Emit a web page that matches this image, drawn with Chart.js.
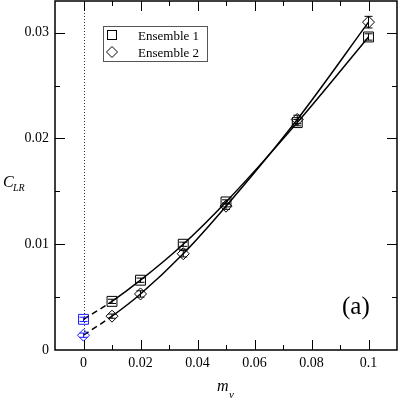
<!DOCTYPE html>
<html>
<head>
<meta charset="utf-8">
<script src="https://cdn.jsdelivr.net/npm/chart.js@4/dist/chart.umd.min.js"></script>
<style>
html, body { margin: 0; padding: 0; background: #fff; }
#wrap { width: 399px; height: 399px; }
</style>
</head>
<body>
<div id="wrap"><canvas id="c" width="399" height="399"></canvas></div>
<script>
// values
const mv = [0, 0.01, 0.02, 0.035, 0.05, 0.075, 0.1];
const ens1 = [0.0029, 0.0046, 0.0066, 0.0100, 0.0140, 0.0215, 0.0296];
const ens1Err = [0.0002, 0.0002, 0.0002, 0.0002, 0.0002, 0.0003, 0.0003];
const ens2 = [0.0014, 0.0032, 0.0053, 0.0091, 0.0136, 0.0218, 0.0310];
const ens2Err = [0.0002, 0.0002, 0.0003, 0.0003, 0.0003, 0.0004, 0.00055];
const xTicks = [0, 0.02, 0.04, 0.06, 0.08, 0.1];
const xTickLabels = ["0", "0.02", "0.04", "0.06", "0.08", "0.1"];
const yTicks = [0, 0.01, 0.02, 0.03];
const yTickLabels = ["0", "0.01", "0.02", "0.03"];
const seriesNames = ["Ensemble 1", "Ensemble 2"];

const SERIF = "'Liberation Serif', 'DejaVu Serif', serif";
const BLUE = "#1a1aff";

Chart.defaults.font.family = SERIF;
Chart.defaults.color = "#000";

const pts = (ys) => mv.map((x, i) => ({ x, y: ys[i] }));
const ptColor = (ctx) => (ctx.dataIndex === 0 ? BLUE : "#000");

// keep the plot frame where the figure has it
const noPad = (s) => {
	s.paddingTop = 0; s.paddingBottom = 0;
	s.paddingLeft = 0; s.paddingRight = 0;
};

// frame, inward ticks, error bars, legend and titles
const decor = {
	id: "decor",
	beforeDatasetsDraw(chart) {
		const { ctx, chartArea: a, scales } = chart;
		const xs = scales.x;
		// dotted line at m_v = 0
		ctx.save();
		ctx.strokeStyle = "#333";
		ctx.lineWidth = 1;
		ctx.setLineDash([1, 2]);
		const x0 = Math.round(xs.getPixelForValue(0)) + 0.5;
		ctx.beginPath();
		ctx.moveTo(x0, a.top);
		ctx.lineTo(x0, a.bottom);
		ctx.stroke();
		ctx.restore();
	},
	afterDatasetsDraw(chart) {
		const { ctx, chartArea: a, scales } = chart;
		const xs = scales.x, ys = scales.y;
		ctx.save();
		// error bars
		const bars = (vals, errs) => {
			vals.forEach((v, i) => {
				const px = xs.getPixelForValue(mv[i]);
				const top = ys.getPixelForValue(v + errs[i]);
				const bot = ys.getPixelForValue(v - errs[i]);
				ctx.strokeStyle = i === 0 ? BLUE : "#000";
				ctx.lineWidth = 1;
				ctx.beginPath();
				ctx.moveTo(px, top); ctx.lineTo(px, bot);
				ctx.moveTo(px - 4, top); ctx.lineTo(px + 4, top);
				ctx.moveTo(px - 4, bot); ctx.lineTo(px + 4, bot);
				ctx.stroke();
			});
		};
		bars(ens1, ens1Err);
		bars(ens2, ens2Err);

		// frame
		ctx.strokeStyle = "#000";
		ctx.lineWidth = 1.5;
		ctx.strokeRect(a.left, a.top, a.right - a.left, a.bottom - a.top);

		// inward ticks on all four sides
		ctx.lineWidth = 1;
		ctx.beginPath();
		for (let v = -0.01; v <= 0.1101; v += 0.01) {
			const px = Math.round(xs.getPixelForValue(v)) + 0.5;
			if (px <= a.left + 1 || px >= a.right - 1) continue;
			const major = xTicks.some((t) => Math.abs(t - v) < 1e-6);
			const len = major ? 10 : 5;
			ctx.moveTo(px, a.bottom); ctx.lineTo(px, a.bottom - len);
			ctx.moveTo(px, a.top); ctx.lineTo(px, a.top + len);
		}
		for (let v = 0; v <= 0.0331; v += 0.005) {
			const py = Math.round(ys.getPixelForValue(v)) + 0.5;
			if (py <= a.top + 1 || py >= a.bottom - 1) continue;
			const major = yTicks.some((t) => Math.abs(t - v) < 1e-6);
			const len = major ? 10 : 5;
			ctx.moveTo(a.left, py); ctx.lineTo(a.left + len, py);
			ctx.moveTo(a.right, py); ctx.lineTo(a.right - len, py);
		}
		ctx.stroke();

		// legend
		ctx.strokeStyle = "#555";
		ctx.lineWidth = 1;
		ctx.strokeRect(103.5, 26.5, 104, 35);
		ctx.strokeStyle = "#000";
		ctx.strokeRect(107.5, 30.5, 9, 9);
		ctx.beginPath();
		ctx.moveTo(112, 46.5); ctx.lineTo(117.5, 52); ctx.lineTo(112, 57.5); ctx.lineTo(106.5, 52);
		ctx.closePath();
		ctx.stroke();
		ctx.fillStyle = "#000";
		ctx.font = "13px " + SERIF;
		ctx.textBaseline = "alphabetic";
		ctx.fillText(seriesNames[0], 138, 40);
		ctx.fillText(seriesNames[1], 138, 57);

		// panel label
		ctx.font = "25px " + SERIF;
		ctx.fillText("(a)", 342, 314);

		// axis titles
		ctx.font = "italic 16px " + SERIF;
		ctx.fillText("C", 3, 187);
		ctx.font = "italic 10px " + SERIF;
		ctx.fillText("LR", 13, 191);
		ctx.font = "italic 16px " + SERIF;
		ctx.fillText("m", 217, 391);
		ctx.font = "italic 11px " + SERIF;
		ctx.fillText("v", 229, 398);
		ctx.restore();
	},
};

const fitSeg = {
	borderDash: (c) => (c.p0.parsed.x < 0.005 ? [6, 4] : undefined),
};

new Chart(document.getElementById("c"), {
	type: "scatter",
	data: {
		datasets: [
			{
				type: "line",
				data: pts(ens1),
				borderColor: "#000",
				borderWidth: 1.5,
				pointRadius: 0,
				cubicInterpolationMode: "monotone",
				segment: fitSeg,
			},
			{
				type: "line",
				data: pts(ens2),
				borderColor: "#000",
				borderWidth: 1.5,
				pointRadius: 0,
				cubicInterpolationMode: "monotone",
				segment: fitSeg,
			},
			{
				label: seriesNames[0],
				data: pts(ens1),
				pointStyle: "rect",
				pointRadius: 7,
				pointBorderWidth: 1,
				pointBorderColor: ptColor,
				pointBackgroundColor: "transparent",
				showLine: false,
			},
			{
				label: seriesNames[1],
				data: pts(ens2),
				pointStyle: "rectRot",
				pointRadius: 6,
				pointBorderWidth: 1,
				pointBorderColor: ptColor,
				pointBackgroundColor: "transparent",
				showLine: false,
			},
		],
	},
	options: {
		responsive: false,
		animation: false,
		devicePixelRatio: 1,
		layout: { autoPadding: false, padding: { top: 1, right: 2, left: 0, bottom: 0 } },
		plugins: { legend: { display: false }, tooltip: { enabled: false } },
		scales: {
			x: {
				type: "linear",
				min: -0.01,
				max: 0.11,
				grid: { display: false, drawTicks: false },
				border: { display: false },
				afterBuildTicks: (s) => { s.ticks = xTicks.map((v) => ({ value: v })); },
				afterFit: (s) => { s.height = 49; noPad(s); },
				ticks: {
					padding: 5,
					color: "#000",
					maxRotation: 0,
					font: { family: SERIF, size: 14 },
					callback: (v) => xTickLabels[xTicks.findIndex((t) => Math.abs(t - v) < 1e-9)],
				},
			},
			y: {
				type: "linear",
				min: 0,
				max: 0.033,
				grid: { display: false, drawTicks: false },
				border: { display: false },
				afterBuildTicks: (s) => { s.ticks = yTicks.map((v) => ({ value: v })); },
				afterFit: (s) => { s.width = 55; noPad(s); },
				ticks: {
					padding: 6,
					color: "#000",
					font: { family: SERIF, size: 14 },
					callback: (v) => yTickLabels[yTicks.findIndex((t) => Math.abs(t - v) < 1e-9)],
				},
			},
		},
	},
	plugins: [decor],
});
</script>
</body>
</html>
